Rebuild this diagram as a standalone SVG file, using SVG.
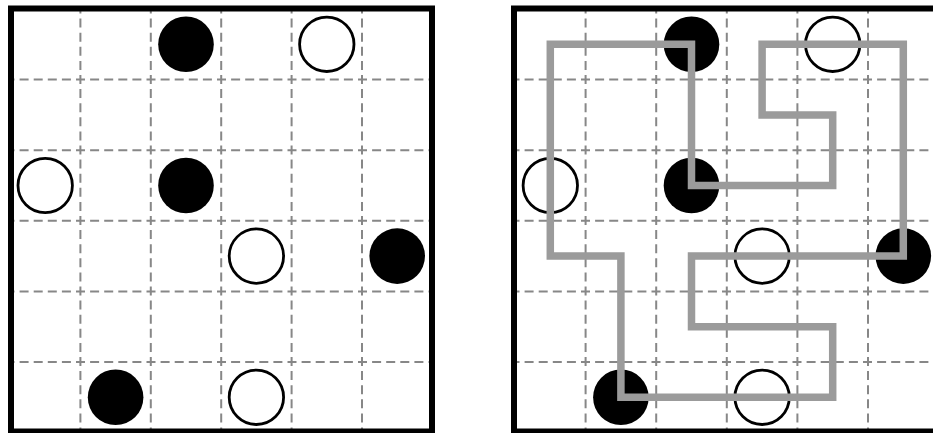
<svg xmlns="http://www.w3.org/2000/svg" width="933" height="433" viewBox="0 0 933 433">
<style>
.dash{stroke:#878787;stroke-width:2;stroke-dasharray:9 5.1;stroke-dashoffset:4.5;fill:none}
.border{fill:none;stroke:#000;stroke-width:6}
.blk{fill:#000}
.wht{fill:#fff;stroke:#000;stroke-width:2.8}
.path{fill:none;stroke:#9b9b9b;stroke-width:7.5;stroke-linejoin:miter;stroke-linecap:square}
</style>
<rect width="933" height="433" fill="#fff"/>
<g id="grid-left">
<g class="dash">
<line x1="80.4" y1="9" x2="80.4" y2="432"/>
<line x1="150.8" y1="9" x2="150.8" y2="432"/>
<line x1="221.2" y1="9" x2="221.2" y2="432"/>
<line x1="291.6" y1="9" x2="291.6" y2="432"/>
<line x1="362" y1="9" x2="362" y2="432"/>
<line x1="10" y1="79.6" x2="432" y2="79.6"/>
<line x1="10" y1="150.2" x2="432" y2="150.2"/>
<line x1="10" y1="220.8" x2="432" y2="220.8"/>
<line x1="10" y1="291.4" x2="432" y2="291.4"/>
<line x1="10" y1="362" x2="432" y2="362"/>
</g>
<rect class="border" x="11" y="8.5" width="421" height="423"/>
</g>
<g id="grid-right">
<g class="dash">
<line x1="585.6" y1="9" x2="585.6" y2="432"/>
<line x1="656.2" y1="9" x2="656.2" y2="432"/>
<line x1="726.8" y1="9" x2="726.8" y2="432"/>
<line x1="797.4" y1="9" x2="797.4" y2="432"/>
<line x1="868" y1="9" x2="868" y2="432"/>
<line x1="515" y1="79.6" x2="939" y2="79.6"/>
<line x1="515" y1="150.2" x2="939" y2="150.2"/>
<line x1="515" y1="220.8" x2="939" y2="220.8"/>
<line x1="515" y1="291.4" x2="939" y2="291.4"/>
<line x1="515" y1="362" x2="939" y2="362"/>
</g>
<rect class="border" x="514" y="8.5" width="425" height="423"/>
</g>
<g id="L-b1"><circle class="blk" cx="186" cy="44.3" r="27.8"/></g>
<g id="L-w1"><circle class="wht" cx="326.8" cy="44.3" r="27.2"/></g>
<g id="L-w2"><circle class="wht" cx="45.2" cy="185.5" r="27.2"/></g>
<g id="L-b2"><circle class="blk" cx="186" cy="185.5" r="27.8"/></g>
<g id="L-w3"><circle class="wht" cx="256.4" cy="256.1" r="27.2"/></g>
<g id="L-b3"><circle class="blk" cx="397.2" cy="256.1" r="27.8"/></g>
<g id="L-b4"><circle class="blk" cx="115.6" cy="397.3" r="27.8"/></g>
<g id="L-w4"><circle class="wht" cx="256.4" cy="397.3" r="27.2"/></g>
<g id="R-b1"><circle class="blk" cx="691.5" cy="44.3" r="27.8"/></g>
<g id="R-w1"><circle class="wht" cx="832.7" cy="44.3" r="27.2"/></g>
<g id="R-w2"><circle class="wht" cx="550.3" cy="185.5" r="27.2"/></g>
<g id="R-b2"><circle class="blk" cx="691.5" cy="185.5" r="27.8"/></g>
<g id="R-w3"><circle class="wht" cx="762.1" cy="256.1" r="27.2"/></g>
<g id="R-b3"><circle class="blk" cx="903.3" cy="256.1" r="27.8"/></g>
<g id="R-b4"><circle class="blk" cx="620.9" cy="397.3" r="27.8"/></g>
<g id="R-w4"><circle class="wht" cx="762.1" cy="397.3" r="27.2"/></g>
<g id="connectors">
<polygon class="path" points="550.3,44.3 691.5,44.3 691.5,185.5 832.7,185.5 832.7,114.9 762.1,114.9 762.1,44.3 903.3,44.3 903.3,256.1 691.5,256.1 691.5,326.7 832.7,326.7 832.7,397.3 620.9,397.3 620.9,256.1 550.3,256.1"/>
</g>
</svg>
